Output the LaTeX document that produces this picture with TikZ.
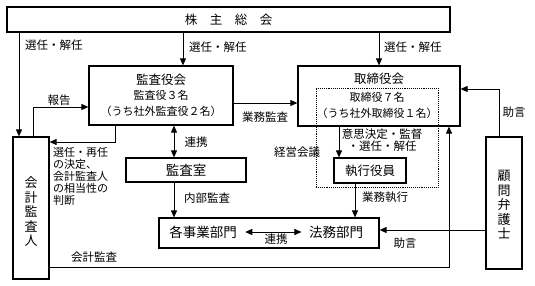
\documentclass[tikz,border=0pt]{standalone}
\usepackage{fontspec}
\newfontfamily\jp{Noto Sans CJK JP}
\usetikzlibrary{arrows.meta}
\begin{document}
\begin{tikzpicture}[x=1pt,y=-1pt,
  box/.style={draw, line width=1.2pt, inner sep=0pt, align=center},
  ln/.style={line width=0.9pt},
  arr/.style={ln, -{Triangle[length=7pt,width=6pt]}},
  darr/.style={ln, {Triangle[length=7pt,width=6pt]}-{Triangle[length=7pt,width=6pt]}},
  big/.style={font=\jp\fontsize{12.5}{15.5}\selectfont},
  mid/.style={font=\jp\fontsize{11}{16}\selectfont},
  large/.style={font=\jp\fontsize{13.5}{15}\selectfont},
  vert/.style={font=\jp\fontsize{13}{14.5}\selectfont, align=center, inner sep=0pt},
  lbl/.style={font=\jp\fontsize{11.5}{12}\selectfont, inner sep=0pt},
  blk/.style={font=\jp\fontsize{11}{12}\selectfont, inner sep=0pt},
]
\useasboundingbox (0,0) rectangle (535,286);

% boxes
\node[box, big, minimum width=443, minimum height=25] (top) at (228.5,19.5) {株　主　総　会};
\node[box, minimum width=144, minimum height=59] (kansa) at (161,95.5) {};
\node[big] (kansaT) at (161,80) {監査役会};
\node[mid, align=center] (kansaS) at (161,103.5) {監査役３名\\（うち社外監査役２名）};

\node[box, minimum width=162, minimum height=60] (tori) at (379,96) {};
\node[draw, densely dotted, line width=0.9pt, minimum width=122, minimum height=99, inner sep=0pt] (dot) at (377,137.5) {};
\node[big] (toriT) at (379,79) {取締役会};
\node[mid, align=center] (toriS) at (377,105) {取締役７名\\（うち社外取締役１名）};

\node[box, large, minimum width=120, minimum height=24] (shitsu) at (186,170) {監査室};
\node[box, big, minimum width=72, minimum height=25] (shikko) at (370,170.5) {執行役員};

\node[box, minimum width=220, minimum height=30] (dept) at (269,233) {};
\node[large] (kakuji) at (203,232) {各事業部門};
\node[large] (homu) at (336,232) {法務部門};

\node[box, minimum width=36, minimum height=142] (kkin) at (31,208) {};
\node[vert] (kkinT) at (31,212) {会\\計\\監\\査\\人};
\node[box, minimum width=36, minimum height=132] (komon) at (504,203) {};
\node[vert] (komonT) at (504,205) {顧\\問\\弁\\護\\士};

% helper coordinates
\coordinate (xL) at (19,0);
\coordinate (xK) at (183,0);
\coordinate (hk) at (33,107);
\coordinate (s5) at (115,142);
\coordinate (g) at (0,103);
\coordinate (xr) at (174,0);
\coordinate (xe) at (339,0);
\coordinate (xg) at (355,0);
\coordinate (yd) at (0,230);
\coordinate (xk) at (499,89);
\coordinate (ka) at (449,267);

% connectors
\draw[arr] (top.south -| xL) -- (kkin.north -| xL);
\draw[arr] (top.south -| xK) -- (kansa.north -| xK);
\draw[arr] (top.south -| tori.north) -- (tori.north);
\draw[arr] (kkin.north -| hk) |- (kansa.west |- hk);
\draw[arr] (kansa.south -| s5) |- (kkin.east |- s5);
\draw[arr] (kansa.east |- g) -- (tori.west |- g);
\draw[darr] (kansa.south -| xr) -- (shitsu.north -| xr);
\draw[arr] (shitsu.south -| xr) -- (dept.north -| xr);
\draw[arr] (tori.south -| xe) -- (shikko.north -| xe);
\draw[arr] (shikko.south -| xg) -- (dept.north -| xg);
\draw[darr] ([xshift=5pt]kakuji.east) -- ([xshift=-4pt]homu.west);
\draw[arr] (komon.west |- yd) -- (dept.east |- yd);
\draw[arr] (komon.north -| xk) |- (tori.east |- xk);
\draw[arr] (kkin.east |- ka) -| (tori.south -| ka);

% labels
\node[lbl, anchor=west] (l1) at (25,45) {選任・解任};
\node[lbl, anchor=west] (l2) at (189,47) {選任・解任};
\node[lbl, anchor=west] (l3) at (384,47) {選任・解任};
\node[lbl] (l4) at (59,100) {報告};
\node[blk, anchor=north west, align=left] (l5) at (53,147) {選任・再任\\の決定、\\会計監査人\\の相当性の\\判断};
\node[lbl] (l6) at (265,117) {業務監査};
\node[lbl] (l7) at (196,142) {連携};
\node[lbl] (l8) at (297,152) {経営会議};
\node[lbl, align=center] (l9) at (382,140.5) {意思決定・監督\\・選任・解任};
\node[lbl] (l10) at (207,198) {内部監査};
\node[lbl] (l11) at (385,197) {業務執行};
\node[lbl] (l12) at (276,239) {連携};
\node[lbl] (l13) at (405,243) {助言};
\node[lbl] (l14) at (514,112) {助言};
\node[lbl] (l15) at (94,257) {会計監査};
\end{tikzpicture}
\end{document}
